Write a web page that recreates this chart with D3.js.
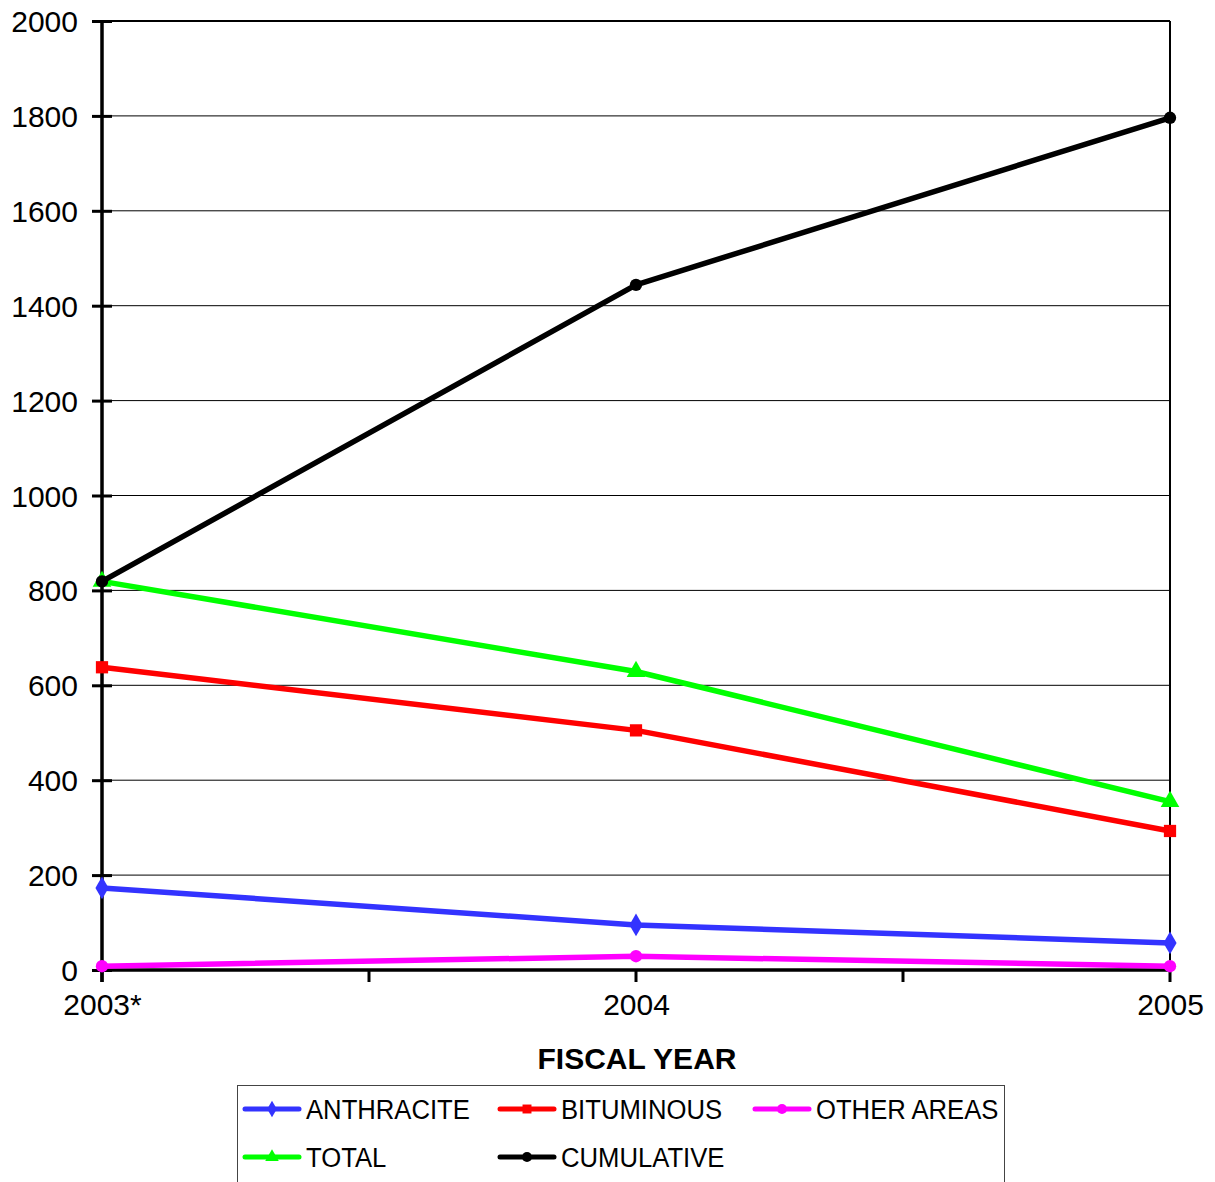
<!DOCTYPE html>
<html><head><meta charset="utf-8">
<script src="https://cdn.jsdelivr.net/npm/d3@7"></script>
<style>body{margin:0;background:#fff}svg{display:block}text{font-family:"Liberation Sans",Arial,sans-serif}</style>
</head><body>
<svg id="c" width="1215" height="1182"></svg>
<script>
const categories = ["2003*", "2004", "2005"];
const anthracite = [173, 95, 57];
const bituminous = [638, 505, 293];
const otherAreas = [8, 29, 8];
const total = [819, 629, 355];
const cumulative = [819, 1444, 1796];
const yTicks = [0, 200, 400, 600, 800, 1000, 1200, 1400, 1600, 1800, 2000];
const seriesNames = ["ANTHRACITE", "BITUMINOUS", "OTHER AREAS", "TOTAL", "CUMULATIVE"];
const seriesColors = ["#3333ff", "#ff0000", "#ff00ff", "#00ff00", "#000000"];
const seriesSymbols = ["diamond", "square", "circle", "triangle", "circle"];
const seriesData = [anthracite, bituminous, otherAreas, total, cumulative];

const svg = d3.select("#c");
const L = 102, R = 1170, T = 21, B = 970;
const x = d3.scalePoint().domain(categories).range([L, R]);
const y = d3.scaleLinear().domain([0, 2000]).range([B, T]);

// gridlines
svg.append("g").selectAll("line").data(yTicks.filter(d => d > 0)).join("line")
  .attr("x1", L).attr("x2", R).attr("y1", d => y(d)).attr("y2", d => y(d))
  .attr("stroke", "#000").attr("stroke-width", d => d === 2000 ? 2 : 1);
// right border
svg.append("line").attr("x1", R).attr("x2", R).attr("y1", T).attr("y2", B)
  .attr("stroke", "#000").attr("stroke-width", 2);

// y axis
const yAxis = svg.append("g").attr("transform", `translate(${L},0)`)
  .call(d3.axisLeft(y).tickValues(yTicks).tickSize(10).tickPadding(14).tickFormat(d3.format("d")));
yAxis.select(".domain").remove();
yAxis.selectAll(".tick line").attr("x2", -10).attr("x1", 10).attr("stroke-width", 3);
yAxis.selectAll(".tick text").attr("font-size", 30).attr("fill", "#000").attr("x", -24).attr("dy", "0.35em");
svg.append("line").attr("x1", L).attr("x2", L).attr("y1", T).attr("y2", B + 12)
  .attr("stroke", "#000").attr("stroke-width", 3.5);

// x axis
const xTickPos = [];
for (let i = 0; i < categories.length; i++) {
  xTickPos.push(x(categories[i]));
  if (i < categories.length - 1) xTickPos.push((x(categories[i]) + x(categories[i + 1])) / 2);
}
svg.append("line").attr("x1", L).attr("x2", R).attr("y1", B).attr("y2", B)
  .attr("stroke", "#000").attr("stroke-width", 3.5);
svg.append("g").selectAll("line").data(xTickPos).join("line")
  .attr("x1", d => d).attr("x2", d => d).attr("y1", B).attr("y2", B + 12)
  .attr("stroke", "#000").attr("stroke-width", 3);
const xAxis = svg.append("g").attr("transform", `translate(0,${B})`)
  .call(d3.axisBottom(x).tickSize(0).tickPadding(24));
xAxis.select(".domain").remove();
xAxis.selectAll(".tick text").attr("font-size", 30).attr("fill", "#000");

svg.append("text").attr("x", (L + R) / 2 + 1).attr("y", 1069).attr("text-anchor", "middle")
  .attr("font-size", 30).attr("font-weight", "bold").text("FISCAL YEAR");

function sym(type, size) {
  const m = {diamond: d3.symbolDiamond, square: d3.symbolSquare, circle: d3.symbolCircle, triangle: d3.symbolTriangle};
  return d3.symbol().type(m[type]).size(size)();
}
const symSize = {diamond: 150, square: 150, circle: 120, triangle: 150};

const line = d3.line().x((d, i) => x(categories[i])).y(d => y(d));
seriesData.forEach((data, k) => {
  const g = svg.append("g");
  g.append("path").attr("d", line(data)).attr("fill", "none")
    .attr("stroke", seriesColors[k]).attr("stroke-width", 5.5).attr("stroke-linejoin", "round");
  g.selectAll("path.m").data(data).join("path").attr("class", "m")
    .attr("transform", (d, i) => `translate(${x(categories[i])},${y(d)})`)
    .attr("d", sym(seriesSymbols[k], symSize[seriesSymbols[k]])).attr("fill", seriesColors[k]);
});

// legend
const lg = svg.append("g");
lg.append("rect").attr("x", 237.5).attr("y", 1085.5).attr("width", 767).attr("height", 110)
  .attr("fill", "#fff").attr("stroke", "#444").attr("stroke-width", 1);
const legPos = [[245, 1109], [500, 1109], [755, 1109], [245, 1157], [500, 1157]];
seriesNames.forEach((n, k) => {
  const [lx, ly] = legPos[k];
  lg.append("line").attr("x1", lx).attr("x2", lx + 54).attr("y1", ly).attr("y2", ly)
    .attr("stroke", seriesColors[k]).attr("stroke-width", 5).attr("stroke-linecap", "round");
  lg.append("path").attr("transform", `translate(${lx + 27},${ly})`)
    .attr("d", sym(seriesSymbols[k], 80)).attr("fill", seriesColors[k]);
  const t = lg.append("text").attr("x", lx + 61).attr("y", ly + 10).attr("font-size", 27).text(n);
  const w = t.node().getComputedTextLength();
  t.attr("textLength", w * 0.95).attr("lengthAdjust", "spacingAndGlyphs");
});
</script>
</body></html>
